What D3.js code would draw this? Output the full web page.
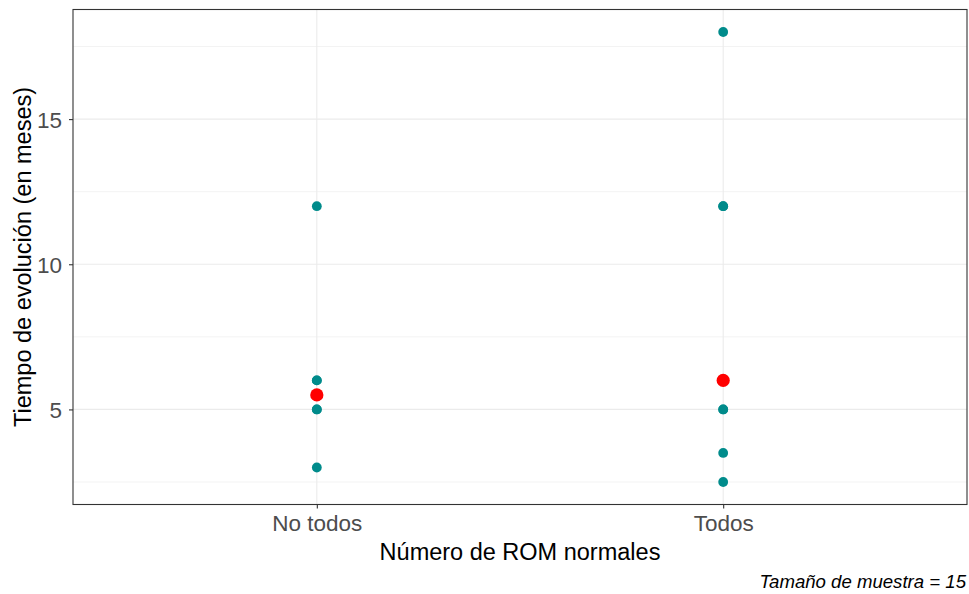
<!DOCTYPE html>
<html><head><meta charset="utf-8">
<script src="https://cdn.jsdelivr.net/npm/d3@7"></script>
<style>body{margin:0;background:#fff}svg{display:block;font-family:Arial,"Liberation Sans",sans-serif}</style>
</head><body>
<svg id="c" width="969" height="594"></svg>
<script>
const categories = ["No todos", "Todos"];
const pointsNoTodos = [3, 5, 5, 6, 6, 12];
const pointsTodos = [2.5, 3.5, 5, 5, 6, 6, 12, 12, 18];
const medians = [5.5, 6];
const yTicks = [5, 10, 15];
const yMinor = [2.5, 7.5, 12.5, 17.5];
const xTitle = "Número de ROM normales";
const yTitle = "Tiempo de evolución (en meses)";
const caption = "Tamaño de muestra = 15";

const svg = d3.select("#c");
const L = 73, R = 967, T = 9.5, B = 504.5;
const x = d3.scalePoint().domain(categories).range([L, R]).padding(0.6);
const dataMin = 2.5, dataMax = 18, ex = (dataMax - dataMin) * 0.05;
const y = d3.scaleLinear().domain([dataMin - ex, dataMax + ex]).range([B, T]);

const g = svg.append("g");
g.selectAll(".ym").data(yMinor).join("line")
  .attr("x1", L).attr("x2", R).attr("y1", d => y(d)).attr("y2", d => y(d))
  .attr("stroke", "#EBEBEB").attr("stroke-width", 0.6);
g.selectAll(".yM").data(yTicks).join("line")
  .attr("x1", L).attr("x2", R).attr("y1", d => y(d)).attr("y2", d => y(d))
  .attr("stroke", "#EBEBEB").attr("stroke-width", 1.1);
g.selectAll(".xM").data(categories).join("line")
  .attr("x1", d => x(d)).attr("x2", d => x(d)).attr("y1", T).attr("y2", B)
  .attr("stroke", "#EBEBEB").attr("stroke-width", 1.1);

const pts = [];
pointsNoTodos.forEach(v => pts.push({c: categories[0], v}));
pointsTodos.forEach(v => pts.push({c: categories[1], v}));
g.selectAll(".pt").data(pts).join("circle")
  .attr("cx", d => x(d.c)).attr("cy", d => y(d.v)).attr("r", 4.9)
  .attr("fill", "#008B8B");
g.selectAll(".md").data(medians).join("circle")
  .attr("cx", (d, i) => x(categories[i])).attr("cy", d => y(d)).attr("r", 6.6)
  .attr("fill", "#FF0000");

svg.append("rect").attr("x", L).attr("y", T).attr("width", R - L).attr("height", B - T)
  .attr("fill", "none").attr("stroke", "#333333").attr("stroke-width", 1.1);

const yAxis = d3.axisLeft(y).tickValues(yTicks).tickSize(4).tickPadding(7);
const ya = svg.append("g").attr("transform", `translate(${L},0)`).call(yAxis);
const xAxis = d3.axisBottom(x).tickSize(4).tickPadding(7);
const xa = svg.append("g").attr("transform", `translate(0,${B})`).call(xAxis);
[ya, xa].forEach(a => {
  a.select(".domain").remove();
  a.selectAll(".tick line").attr("stroke", "#333333").attr("stroke-width", 1.1);
  a.selectAll(".tick text").attr("fill", "#4D4D4D").style("font-size", "22.5px")
   .style("font-family", "Arial, 'Liberation Sans', sans-serif");
});
ya.selectAll(".tick text").attr("dy", "0.36em");
xa.selectAll(".tick text").attr("dy", "0.71em");

svg.append("text").attr("x", (L + R) / 2).attr("y", 560)
  .attr("text-anchor", "middle").attr("fill", "#000").style("font-size", "23.5px").text(xTitle);
svg.append("text").attr("transform", `translate(31,${(T + B) / 2}) rotate(-90)`)
  .attr("text-anchor", "middle").attr("fill", "#000").style("font-size", "23.5px").text(yTitle);
svg.append("text").attr("x", 966).attr("y", 588).attr("text-anchor", "end")
  .attr("fill", "#000").style("font-size", "18.6px").style("font-style", "italic").text(caption);
</script>
</body></html>
